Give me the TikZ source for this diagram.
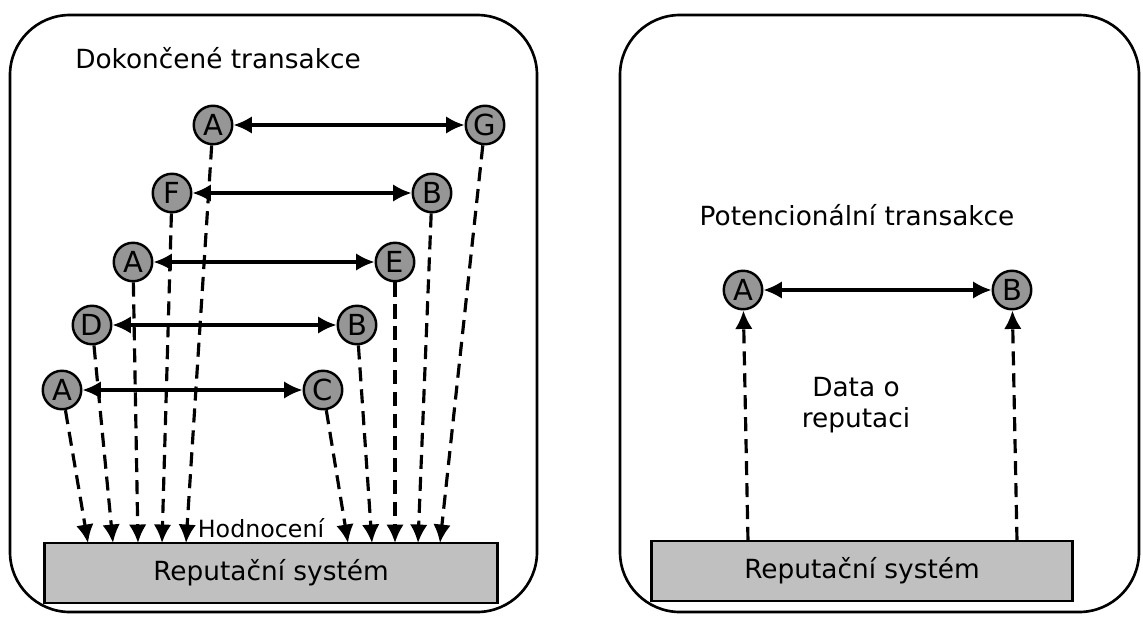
\documentclass[tikz,border=0pt]{standalone}
\usepackage{fontspec}
\setmainfont{DejaVu Sans}
\usetikzlibrary{positioning, arrows.meta}

\definecolor{uzelseda}{RGB}{150,150,150}
\definecolor{boxseda}{RGB}{192,192,192}

\tikzset{
  styl reputace/.style={
      x=0.02cm, y=-0.02cm,
      every node/.style={font={\fontsize{15}{18}\selectfont}},
      uzel/.style={circle, draw, line width=1.4pt, fill=uzelseda, minimum size=0.77cm, inner sep=0pt,
          font={\fontsize{16.5}{16.5}\selectfont}},
      transakce/.style={{Latex[length=10.5pt,width=10pt]}-{Latex[length=10.5pt,width=10pt]}, line width=1.8pt},
      hodnoceni/.style={-{Latex[length=10.5pt,width=10pt]}, line width=1.8pt, dash pattern=on 8pt off 4.5pt},
      system/.style={draw, line width=1.6pt, fill=boxseda, inner sep=0pt, minimum height=1.2cm},
      ramec/.style={line width=1.5pt, rounded corners=1.2cm},
    },
}

\begin{document}
\begin{tikzpicture}[styl reputace]
    \useasboundingbox (0,0) rectangle (1143,626);

    % dokoncene transakce
    \draw[ramec] (10,15) rectangle (537,612);
    \node (nadpis1) at (218,58) {Dokončené transakce};

    \node[uzel] (a1) at (213,125) {A};
    \node[uzel] (g) at (485,125) {G};
    \node[uzel] (f) at (172,193) {F};
    \node[uzel] (b2) at (432,193) {B};
    \node[uzel] (a3) at (133,262) {A};
    \node[uzel] (e) at (395,262) {E};
    \node[uzel] (d) at (92,325) {D};
    \node[uzel] (b4) at (357,325) {B};
    \node[uzel] (a5) at (62,390) {A};
    \node[uzel] (c) at (323,390) {C};

    \node[system, minimum width=9.06cm] (rep1) at (271,573) {Reputační systém};
    \node[font={\fontsize{13.5}{16}\selectfont}] (hodn) at (261,528) {Hodnocení};

    \coordinate (h1) at (88,543);
    \coordinate (h2) at (113,543);
    \coordinate (h3) at (138,543);
    \coordinate (h4) at (162,543);
    \coordinate (h5) at (186,543);
    \coordinate (h6) at (348,543);
    \coordinate (h7) at (372,543);
    \coordinate (h8) at (395,543);
    \coordinate (h9) at (418,543);
    \coordinate (h10) at (440,543);

    \draw[transakce] (a1) -- (g);
    \draw[transakce] (f) -- (b2);
    \draw[transakce] (a3) -- (e);
    \draw[transakce] (d) -- (b4);
    \draw[transakce] (a5) -- (c);

    \draw[hodnoceni] (a5) -- (h1);
    \draw[hodnoceni] (d) -- (h2);
    \draw[hodnoceni] (a3) -- (h3);
    \draw[hodnoceni] (f) -- (h4);
    \draw[hodnoceni] (a1) -- (h5);
    \draw[hodnoceni] (c) -- (h6);
    \draw[hodnoceni] (b4) -- (h7);
    \draw[hodnoceni] (e) -- (h8);
    \draw[hodnoceni] (b2) -- (h9);
    \draw[hodnoceni] (g) -- (h10);

    % potencionalni transakce
    \draw[ramec] (620,15) rectangle (1139,612);
    \node (nadpis2) at (857,215) {Potencionální transakce};

    \node[uzel] (pa) at (743,290) {A};
    \node[uzel] (pb) at (1012,290) {B};
    \node[system, minimum width=8.42cm] (rep2) at (862,571) {Reputační systém};
    \node[align=center] (data) at (856,405) {Data o\\reputaci};

    \coordinate (d1) at (748,541);
    \coordinate (d2) at (1017,541);

    \draw[transakce] (pa) -- (pb);
    \draw[hodnoceni] (d1) -- (pa);
    \draw[hodnoceni] (d2) -- (pb);
\end{tikzpicture}
\end{document}
